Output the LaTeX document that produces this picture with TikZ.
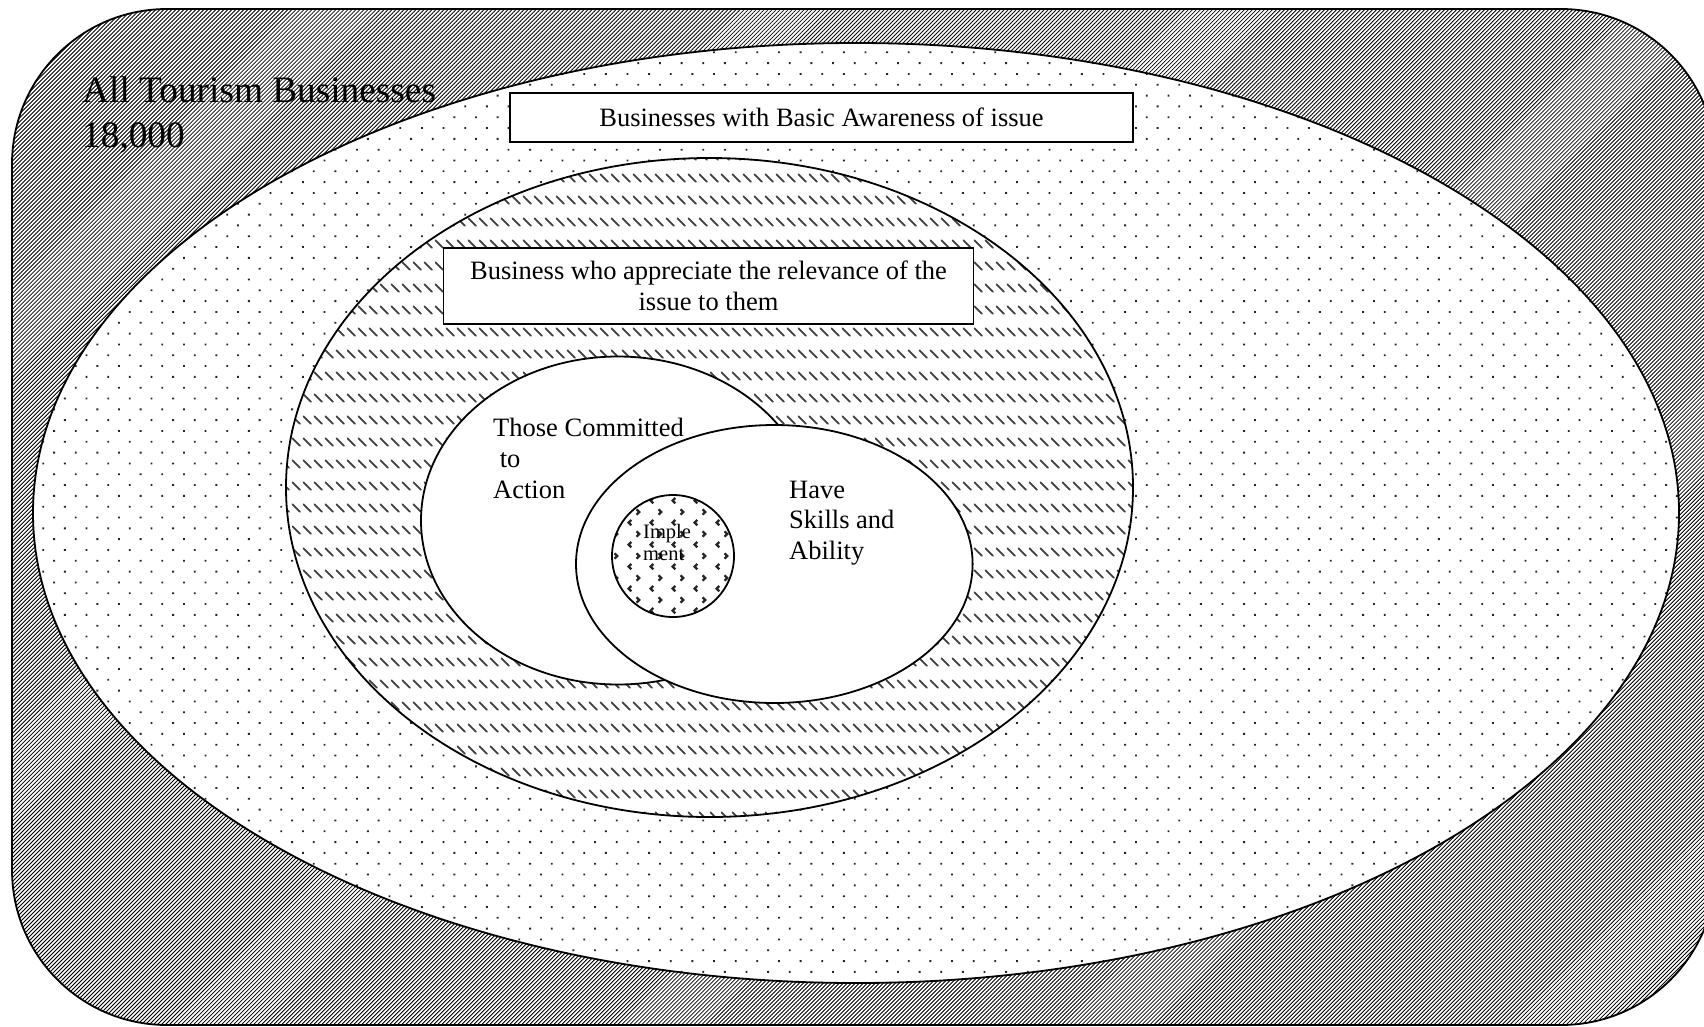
\documentclass[tikz,border=0pt]{standalone}
\usepackage{fontspec}
\setmainfont{Liberation Serif}
\usetikzlibrary{patterns.meta}

\newcommand\bodyfont{\fontsize{26.5}{30.5}\selectfont}

\tikzdeclarepattern{
  name=dashdown, type=uncolored,
  bottom left={(0pt,0pt)}, top right={(10.8pt,21.6pt)},
  tile size={(10.8pt,21.6pt)},
  code={\draw[line width=1.8pt, line cap=round] (1.6pt,20pt) -- (9.2pt,12.4pt);}
}
\tikzdeclarepattern{
  name=divot, type=uncolored,
  bottom left={(0pt,0pt)}, top right={(21.6pt,21.6pt)},
  tile size={(21.6pt,21.6pt)},
  code={
    \draw[line width=2.3pt] (10.8pt,18.9pt) -- (13.5pt,16.2pt) -- (10.8pt,13.5pt);
    \draw[line width=2.3pt] (5.4pt,8.1pt) -- (2.7pt,5.4pt) -- (5.4pt,2.7pt);
  }
}

\begin{document}
\begin{tikzpicture}[
  x=1pt, y=-1pt,
  rim/.style={draw=black, line width=1.8pt},
  stripes/.style={rim, preaction={fill=white},
    pattern={Lines[angle=45, distance=2.83pt, line width=0.85pt]}, pattern color=black},
  dots/.style={rim, preaction={fill=white},
    pattern={Dots[angle=45, distance=15.3pt, radius=1.3pt]}, pattern color=black!85},
  dashes/.style={rim, preaction={fill=white}, pattern=dashdown, pattern color=black!75},
  plain/.style={rim, fill=white},
  tag/.style={rim, fill=white, inner sep=0pt, align=center, font=\bodyfont},
  lbl/.style={inner sep=0pt, align=left, anchor=base west, font=\bodyfont}
]
\useasboundingbox (0,0) rectangle (1704,1026);
\clip (0,0) rectangle (1704,1026);
\fill[white] (0,0) rectangle (1704,1026);

% nested sets, outermost first
\draw[stripes, rounded corners=155pt] (12,9) rectangle (1716,1025);
\draw[dots] (856,513) ellipse [x radius=823, y radius=470];
\draw[dashes] (709.5,487.5) ellipse [x radius=423.5, y radius=329.5];
\draw[plain] (618,520.5) ellipse [x radius=197, y radius=164];
\draw[plain] (774.3,564) ellipse [x radius=198.3, y radius=139];
\draw[rim, preaction={fill=white}, pattern=divot, pattern color=black!85]
  (673,556) circle [radius=61];

% boxes
\node[tag, minimum width=623pt, minimum height=49pt] (aware) at (821.5,117.7)
  {Businesses with Basic Awareness of issue};
\node[tag, minimum width=530pt, minimum height=76pt] (relev) at (708.5,285.8)
  {Business who appreciate the relevance of the\\issue to them};

% labels (anchored at the baseline of their last line)
\node[lbl, font=\fontsize{37.3}{45}\selectfont] (all) at (82,147)
  {All Tourism Businesses\\18,000};
\node[lbl, font=\fontsize{26.5}{31}\selectfont] (commit) at (493,498)
  {Those Committed\\\hspace*{.25em}to\\Action};
\node[lbl] (skills) at (789,559) {Have\\Skills and\\Ability};
\node[lbl, font=\fontsize{20.5}{22}\selectfont] (impl) at (643,560) {Imple\\ment};
\end{tikzpicture}
\end{document}
